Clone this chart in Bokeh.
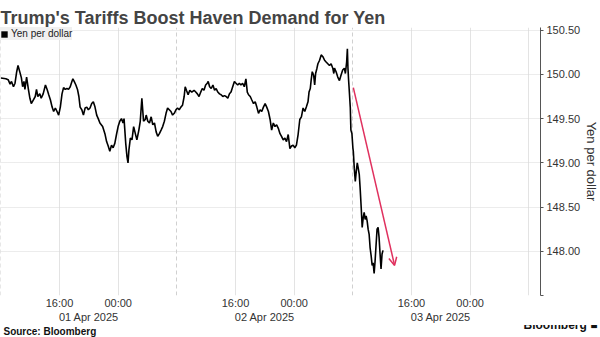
from bokeh.plotting import figure
from bokeh.layouts import column
from bokeh.models import (FixedTicker, Range1d, Grid, Arrow, OpenHead, Title,
                          Legend, LegendItem, NumeralTickFormatter)
from bokeh.core.properties import value
from bokeh.embed import file_html
from bokeh.resources import INLINE

# time in hours since 2025-04-01 08:00
hours = [0.00, 0.68, 0.99, 1.26, 1.45, 1.72, 1.93, 2.16, 2.34, 2.61, 2.80, 2.97, 3.15, 3.28, 3.51, 3.74, 3.96, 4.15, 4.42, 4.69,
         4.86, 5.04, 5.31, 5.50, 5.77, 6.08, 6.31, 6.53, 6.76, 6.99, 7.20, 7.43, 7.66, 7.88, 8.11, 8.34, 8.55, 8.78, 9.01, 9.23,
         9.46, 9.69, 9.82, 10.00, 10.23, 10.45, 10.64, 10.81, 11.04, 11.26, 11.49, 11.72, 11.93, 12.16, 12.39, 12.61, 12.84, 13.07, 13.28, 13.51,
         13.88, 14.19, 14.42, 14.64, 14.86, 15.09, 15.31, 15.54, 15.77, 15.99, 16.22, 16.45, 16.66, 16.80, 17.03, 17.20, 17.34, 17.47, 17.66, 17.88,
         18.11, 18.34, 18.55, 18.82, 19.01, 19.23, 19.46, 19.69, 19.82, 20.04, 20.27, 20.50, 20.72, 20.95, 21.18, 21.39, 21.62, 21.85, 22.07, 22.30,
         22.53, 22.74, 22.97, 23.20, 23.42, 23.65, 23.88, 24.09, 24.32, 24.55, 24.77, 25.00, 25.14, 25.31, 25.54, 25.77, 26.04, 26.35, 26.58, 26.80, 27.03,
         27.26, 27.47, 27.70, 27.93, 28.15, 28.28, 28.47, 28.69, 28.92, 29.15, 29.36, 29.59, 29.82, 30.04, 30.27, 30.50, 30.72, 30.95, 31.18, 31.39,
         31.62, 31.85, 32.07, 32.30, 32.53, 32.74, 32.97, 33.20, 33.42, 33.61, 33.78, 34.01, 34.23, 34.46, 34.69, 34.91, 35.14, 35.36, 35.58, 35.81,
         36.04, 36.26, 36.49, 36.72, 36.93, 37.16, 37.39, 37.61, 37.84, 38.07, 38.28, 38.51, 38.74, 38.96, 39.19, 39.42, 39.64, 39.86, 40.09, 40.31, 40.54,
         40.77, 40.99, 41.22, 41.45, 41.66, 41.89, 42.03, 42.20, 42.34, 42.47, 42.66, 42.80, 42.93, 43.11, 43.24, 43.47, 43.69, 43.92, 44.15, 44.36,
         44.59, 44.82, 45.04, 45.27, 45.41, 45.50, 45.72, 45.95, 46.18, 46.39, 46.62, 46.85, 46.99, 47.16, 47.26, 47.34, 47.43, 47.53, 47.66, 47.74,
         47.88, 48.01,
         48.07, 48.20, 48.34, 48.47, 48.61, 48.74, 48.88, 49.01, 49.15, 49.28, 49.42, 49.55, 49.69, 49.82, 49.96, 50.09, 50.23, 50.36, 50.50, 50.64,
         50.77, 50.91, 51.04, 51.18, 51.31, 51.45, 51.58, 51.72, 51.85, 51.99, 52.12]

yen = [149.96, 149.95, 149.94, 149.89, 149.92, 149.86, 149.90, 150.03, 150.10, 150.02, 149.96, 149.86, 149.92, 149.83, 149.97, 149.84, 149.73, 149.67, 149.71, 149.75,
       149.83, 149.75, 149.78, 149.73, 149.78, 149.88, 149.83, 149.77, 149.71, 149.63, 149.58, 149.62, 149.58, 149.54, 149.63, 149.78, 149.85, 149.83, 149.84, 149.83,
       149.86, 149.92, 149.95, 149.92, 149.88, 149.83, 149.75, 149.63, 149.60, 149.54, 149.62, 149.63, 149.60, 149.62, 149.67, 149.69, 149.63, 149.54, 149.50, 149.45,
       149.41, 149.33, 149.24, 149.19, 149.13, 149.20, 149.17, 149.22, 149.32, 149.41, 149.47, 149.50, 149.45, 149.50, 149.22, 149.07, 149.00, 149.15, 149.28, 149.26,
       149.41, 149.33, 149.26, 149.37, 149.47, 149.73, 149.47, 149.49, 149.54, 149.47, 149.45, 149.52, 149.43, 149.45, 149.35, 149.30, 149.33, 149.37, 149.41, 149.47,
       149.56, 149.62, 149.60, 149.58, 149.54, 149.56, 149.60, 149.62, 149.60, 149.63, 149.65, 149.75, 149.86, 149.82, 149.77, 149.82, 149.80, 149.82, 149.80, 149.78, 149.75,
       149.80, 149.84, 149.82, 149.88, 149.90, 149.92, 149.86, 149.84, 149.88, 149.82, 149.84, 149.80, 149.78, 149.77, 149.75, 149.76, 149.75, 149.73, 149.78, 149.80,
       149.86, 149.92, 149.90, 149.88, 149.90, 149.88, 149.90, 149.86, 149.95, 149.80, 149.77, 149.75, 149.71, 149.67, 149.69, 149.63, 149.56, 149.60, 149.58, 149.63,
       149.67, 149.63, 149.58, 149.49, 149.37, 149.45, 149.41, 149.43, 149.39, 149.33, 149.30, 149.26, 149.28, 149.24, 149.32, 149.16, 149.19, 149.20, 149.17, 149.20, 149.32,
       149.49, 149.52, 149.62, 149.58, 149.63, 149.69, 149.80, 149.84, 149.95, 150.03, 149.99, 149.88, 150.01, 150.07, 150.12, 150.16, 150.22, 150.20, 150.16, 150.14,
       150.12, 150.10, 150.12, 150.07, 150.01, 150.07, 150.03, 149.97, 149.93, 149.99, 150.05, 150.07, 150.01, 150.14, 150.29, 150.07, 149.93, 149.80, 149.62, 149.37,
       149.33, 149.17,
       149.13, 148.94, 148.79, 148.90, 149.00, 148.94, 148.87, 148.70, 148.49, 148.27, 148.38, 148.44, 148.36, 148.40, 148.34, 148.25, 148.19, 148.04, 147.95, 147.84,
       147.87, 147.75, 147.89, 148.08, 148.25, 148.27, 148.16, 147.97, 147.80, 147.97, 148.01]

time_ticks = [8, 16, 32, 40, 56, 64]
time_labels = ["16:00", "00:00", "16:00", "00:00", "16:00", "00:00"]
date_ticks = [12, 36, 60]
date_labels = ["01 Apr 2025", "02 Apr 2025", "03 Apr 2025"]
session_breaks = [0, 24, 48]
y_ticks = [147.5, 148.0, 148.5, 149.0, 149.5, 150.0, 150.5]

arrow_start = (48.07, 149.85)
arrow_end = (53.7, 147.84)

FONT = "Liberation Sans"

p = figure(width=600, height=325, output_backend="svg", toolbar_location=None,
           x_range=Range1d(-0.05, 73.6), y_range=Range1d(147.5, 150.53),
           y_axis_location="right", min_border_left=0, min_border_right=55,
           min_border_top=27, min_border_bottom=30)
p.outline_line_color = None

p.title.text = "Trump's Tariffs Boost Haven Demand for Yen"
p.title.text_font = FONT
p.title.text_font_size = "18px"
p.title.text_font_style = "bold"
p.title.offset = 0
p.title.standoff = 0

# grids
p.xgrid.ticker = FixedTicker(ticks=time_ticks + [72])
p.xgrid.grid_line_color = "#e3e3e3"
p.add_layout(Grid(dimension=0, ticker=FixedTicker(ticks=session_breaks),
                  grid_line_color="#d0d0d0", grid_line_dash="4 3"))
p.ygrid.ticker = FixedTicker(ticks=y_ticks)
p.ygrid.grid_line_color = "#d9d9d9"
p.ygrid.grid_line_dash = "1 1"

# y axis
ya = p.yaxis[0]
ya.ticker = FixedTicker(ticks=y_ticks)
ya.formatter = NumeralTickFormatter(format="0.00")
ya.major_label_overrides = {147.5: ""}
ya.axis_line_color = "#555555"
ya.major_tick_line_color = "#555555"
ya.major_tick_in = 0
ya.major_tick_out = 3
ya.minor_tick_line_color = None
ya.minor_tick_in = 0
ya.minor_tick_out = 0
ya.major_label_standoff = 3
ya.major_label_text_font = FONT
ya.major_label_text_font_size = "11px"
ya.major_label_text_color = "#333333"

p.add_layout(Title(text="Yen per dollar", align="center", text_font=FONT,
                   text_font_size="13px", text_font_style="normal",
                   text_color="#333333", offset=0, standoff=0), "right")

# x axis: times on first line, dates (between their two times) on second line
xa = p.xaxis[0]
x_ticks = sorted(time_ticks + date_ticks)
x_labels = dict(zip(time_ticks, time_labels))
x_labels.update({t: "\n" + d for t, d in zip(date_ticks, date_labels)})
xa.ticker = FixedTicker(ticks=x_ticks)
xa.major_label_overrides = x_labels
xa.axis_line_color = None
xa.major_tick_line_color = None
xa.minor_tick_line_color = None
xa.major_tick_in = 0
xa.major_tick_out = 0
xa.minor_tick_in = 0
xa.minor_tick_out = 0
xa.major_label_standoff = 1
xa.major_label_text_font = FONT
xa.major_label_text_font_size = "11px"
xa.major_label_text_color = "#333333"

# data line
line = p.line(hours, yen, line_color="black", line_width=1.6)

# zero-size quad at the first data point: only used as a legend swatch
sw = p.quad(left=hours[:1], right=hours[:1], top=yen[:1], bottom=yen[:1],
            fill_color="black", line_color=None)
legend = Legend(items=[LegendItem(label="Yen per dollar", renderers=[sw])],
                location="top_left", margin=0, padding=4, spacing=0,
                background_fill_color="#f0f0f0", background_fill_alpha=1,
                border_line_color=None, glyph_width=8, glyph_height=8,
                label_height=13, label_standoff=3,
                label_text_font=FONT, label_text_font_size="10px",
                label_text_color="#222222")
p.add_layout(legend)

# arrow
p.add_layout(Arrow(x_start=arrow_start[0], y_start=arrow_start[1],
                   x_end=arrow_end[0], y_end=arrow_end[1],
                   line_color="#e0305e", line_width=1.5,
                   end=OpenHead(size=8, line_color="#e0305e", line_width=1.5)))

# footer row: source text in the frame, brand as the label of a bare right axis
foot = figure(width=600, height=12, output_backend="svg", toolbar_location=None,
              x_range=Range1d(0, 545), y_range=Range1d(0, 1),
              x_axis_type=None, y_axis_location="right", min_border=0)
foot.outline_line_color = None
foot.grid.visible = False
foot.text(x=[3], y=[0.5], text=["Source: Bloomberg"], text_font=value(FONT),
          text_font_size="10px", text_font_style="bold", text_color="#111111",
          text_align="left", text_baseline="middle")
fa = foot.yaxis[0]
fa.ticker = FixedTicker(ticks=[0.15])
fa.major_label_overrides = {0.15: "Bloomberg \u25A0"}
fa.axis_line_color = None
fa.major_tick_line_color = None
fa.minor_tick_line_color = None
fa.major_tick_in = 0
fa.major_tick_out = 0
fa.minor_tick_in = 0
fa.minor_tick_out = 0
fa.major_label_standoff = -17
fa.major_label_text_font = FONT
fa.major_label_text_font_size = "12px"
fa.major_label_text_font_style = "bold"
fa.major_label_text_color = "#111111"

layout = column(p, foot, spacing=0)
open("out.html", "w").write(file_html(layout, INLINE))
